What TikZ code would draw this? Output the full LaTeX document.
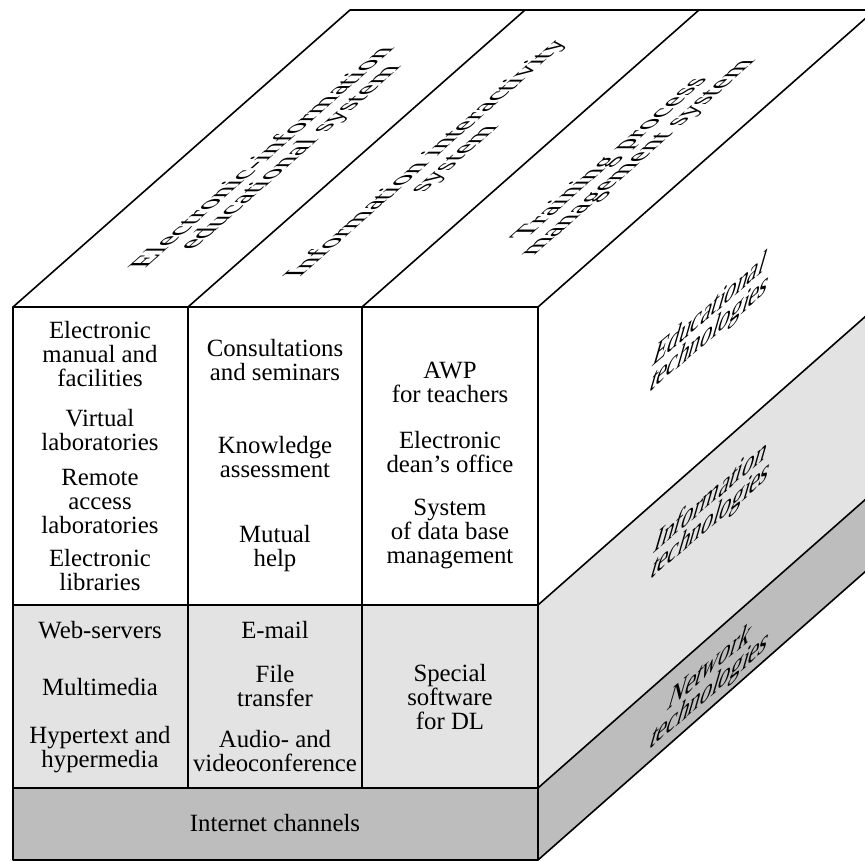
\documentclass[tikz,border=0pt]{standalone}
\usepackage{fontspec}
\setmainfont{Liberation Serif}
\newfontfamily\slantserif[FakeSlant=0.45]{Liberation Serif}
\usetikzlibrary{calc}

\definecolor{infofill}{gray}{0.89}
\definecolor{netfill}{gray}{0.74}

\begin{document}
\begin{tikzpicture}[x=0.5pt,y=-0.5pt,line width=0.8pt,line join=round]
  \tikzstyle{cell}=[align=center,inner sep=0pt,font=\fontsize{12.4}{12}\selectfont]
  \tikzstyle{topside}=[cell,cm={1.1,0.97,-1.15,0,(0,0)}]
  \tikzstyle{rightside}=[cell,font=\slantserif\fontsize{12.4}{10.6}\selectfont,cm={0.94,0.8,0,1.1,(0,0)}]
  \useasboundingbox (0,0) rectangle (865,860);
  \clip (0,0) rectangle (865,860);
  % corners of the block
  \coordinate (fl) at (13,307);
  \coordinate (fr) at (538,307);
  \coordinate (bl) at (350,10);
  \coordinate (br) at (875,10);
  \coordinate (il) at (13,605);
  \coordinate (ir) at (538,605);
  \coordinate (nl) at (13,788);
  \coordinate (nr) at (538,788);
  \coordinate (el) at (13,860);
  \coordinate (er) at (538,860);
  \coordinate (ib) at (875,308);
  \coordinate (nb) at (875,491);
  \coordinate (eb) at (875,563);
  % faces
  \fill[infofill] (il) rectangle (nr);
  \fill[netfill] (nl) rectangle (er);
  \fill[infofill] (ir) -- (ib) -- (nb) -- (nr) -- cycle;
  \fill[netfill] (nr) -- (nb) -- (eb) -- (er) -- cycle;
  \draw (fl) rectangle (er);
  \draw (il) -- (ir) (nl) -- (nr);
  \draw (fl) -- (bl) -- (br) (fr) -- (br);
  \draw (ir) -- (ib) (nr) -- (nb) (er) -- (eb);
  % columns
  \draw (188,307) -- (188,788) (362,307) -- (362,788);
  \draw (188,307) -- (525,10) (362,307) -- (699,10);
  % systems on top
  \node[topside] (elecsys) at (277,158) {Electronic-information\\educational system};
  \node[topside] (intsys) at (441,159) {Information interactivity\\system};
  \node[topside] (mgmtsys) at (625,158) {Training process\\management system};
  % technologies on the side
  \node[rightside] (edutech) at (707,325) {Educational\\technologies};
  \node[rightside] (infotech) at (708,512) {Information\\technologies};
  \node[rightside] (nettech) at (707,682) {Network\\technologies};
  % first column
  \node[cell] (manual) at (100,354) {Electronic\\manual and\\facilities};
  \node[cell] (virtlab) at (100,430) {Virtual\\laboratories};
  \node[cell] (remlab) at (100,501) {Remote\\access\\laboratories};
  \node[cell] (library) at (100,570) {Electronic\\libraries};
  \node[cell] (websrv) at (100,630) {Web-servers};
  \node[cell] (multimedia) at (100,687) {Multimedia};
  \node[cell] (hypertext) at (100,750) {Hypertext and\\hypermedia};
  % second column
  \node[cell] (consult) at (275,360) {Consultations\\and seminars};
  \node[cell] (assess) at (275,457) {Knowledge\\assessment};
  \node[cell] (mutual) at (275,549) {Mutual\\help};
  \node[cell] (email) at (275,630) {E-mail};
  \node[cell] (filetr) at (275,686) {File\\transfer};
  \node[cell] (videoconf) at (275,751) {Audio- and\\videoconference};
  % third column
  \node[cell] (awp) at (450,382) {AWP\\for teachers};
  \node[cell] (dean) at (450,452) {Electronic\\dean’s office};
  \node[cell] (dbms) at (450,534) {System\\of data base\\management};
  \node[cell] (software) at (450,697) {Special\\software\\for DL};
  % bottom layer
  \node[cell] (channels) at (275,823) {Internet channels};
\end{tikzpicture}
\end{document}
